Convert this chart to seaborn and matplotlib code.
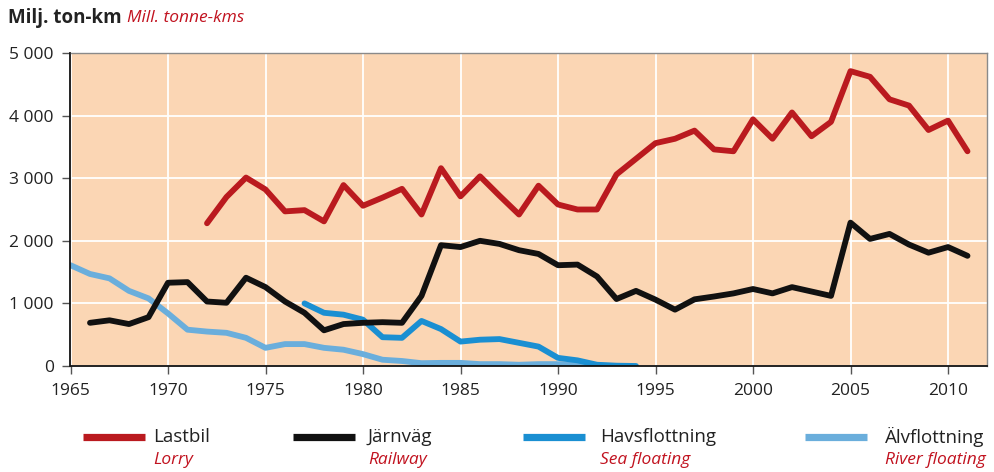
import matplotlib
matplotlib.use("Agg")
import matplotlib.pyplot as plt
from matplotlib.lines import Line2D
from matplotlib.ticker import FuncFormatter
import seaborn as sns
import pandas as pd

# ---- data ----
lastbil_years = list(range(1972, 2012))
lastbil = [2280, 2700, 3010, 2820, 2470, 2490, 2310, 2890, 2560, 2690,
           2830, 2420, 3160, 2710, 3030, 2720, 2420, 2880, 2580, 2500,
           2500, 3060, 3310, 3560, 3630, 3760, 3460, 3430, 3940, 3630,
           4050, 3670, 3900, 4710, 4620, 4260, 4160, 3770, 3920, 3430]

jarnvag_years = list(range(1966, 2012))
jarnvag = [690, 730, 670, 780, 1330, 1340, 1030, 1010, 1410, 1260,
           1030, 850, 570, 670, 690, 700, 690, 1120, 1930, 1900,
           2000, 1950, 1850, 1790, 1610, 1620, 1430, 1070, 1200, 1060,
           900, 1065, 1110, 1160, 1230, 1160, 1260, 1190, 1120, 2290,
           2030, 2110, 1940, 1810, 1900, 1760]

havs_years = list(range(1977, 1995))
havs = [1000, 850, 820, 740, 460, 450, 720, 590, 390, 420,
        430, 370, 310, 130, 90, 20, 5, 0]

alv_years = list(range(1965, 1994))
alv = [1610, 1470, 1400, 1200, 1080, 840, 580, 550, 530, 450,
       290, 350, 350, 290, 260, 190, 100, 80, 45, 50,
       50, 30, 30, 20, 30, 30, 20, 5, 0]

series_sv = ["Lastbil", "Järnväg", "Havsflottning", "Älvflottning"]
series_en = ["Lorry", "Railway", "Sea floating", "River floating"]
colors = ["#BA1A1F", "#111111", "#1A8FD2", "#6AAEDC"]

x_ticks = list(range(1965, 2015, 5))
y_ticks = [0, 1000, 2000, 3000, 4000, 5000]

frames = []
for name, yrs, vals in [("Lastbil", lastbil_years, lastbil),
                        ("Järnväg", jarnvag_years, jarnvag),
                        ("Havsflottning", havs_years, havs),
                        ("Älvflottning", alv_years, alv)]:
    frames.append(pd.DataFrame({"year": yrs, "value": vals, "series": name}))
df = pd.concat(frames, ignore_index=True)

# ---- style ----
sns.set_theme(style="white")
plt.rcParams["font.family"] = ["Open Sans", "DejaVu Sans"]

W, H = 995.0, 472.0
fig = plt.figure(figsize=(9.95, 4.72), dpi=100)
ax = fig.add_axes([70.5 / W, 1 - 366 / H, (987 - 70.5) / W, (366 - 53) / H])
ax.set_facecolor("#FBD6B4")

order = ["Älvflottning", "Havsflottning", "Järnväg", "Lastbil"]
pal = dict(zip(series_sv, colors))
for name in order:
    sub = df[df["series"] == name]
    sns.lineplot(data=sub, x="year", y="value", color=pal[name], lw=4.2,
                 ax=ax, legend=False, solid_capstyle="round", sort=True)

ax.set_xlim(1965, 2012)
ax.set_ylim(0, 5000)
ax.set_xticks(x_ticks)
ax.set_yticks(y_ticks)
ax.yaxis.set_major_formatter(FuncFormatter(lambda v, p: f"{int(v):,}".replace(",", " ")))
ax.grid(True, color="white", lw=1.3)
ax.set_axisbelow(True)
ax.set_xlabel("")
ax.set_ylabel("")

for s in ["left", "bottom"]:
    ax.spines[s].set_color("#111111")
    ax.spines[s].set_linewidth(1.3)
for s in ["top", "right"]:
    ax.spines[s].set_color("#8a8a8a")
    ax.spines[s].set_linewidth(1.0)

ax.tick_params(axis="both", which="major", direction="out", length=6, width=1,
               color="#555555", labelsize=12.5, labelcolor="#222222", pad=6,
               bottom=True, left=True)

# ---- title ----
t1 = fig.text(8 / W, 0.961, "Milj. ton-km", fontsize=13.5, fontweight="bold",
              color="#222222", va="center", ha="left")
fig.canvas.draw()
bb = t1.get_window_extent()
x_next = (bb.x1 + 5) / fig.bbox.width
fig.text(x_next, 0.961, "Mill. tonne-kms", fontsize=12.5, fontstyle="italic",
         color="#C1121F", va="center", ha="left")

# ---- legend (manual) ----
handle_x = [(83, 145), (293, 355), (523, 585), (805, 867)]
text_x = [153, 368, 600, 885]
y_sv = 1 - 437 / H
y_en = 1 - 460 / H
for i in range(4):
    a, b = handle_x[i]
    fig.add_artist(Line2D([a / W, b / W], [y_sv, y_sv],
                          transform=fig.transFigure, color=colors[i], lw=5.2,
                          solid_capstyle="butt"))
    fig.text(text_x[i] / W, y_sv, series_sv[i], fontsize=13.5, color="#222222",
             va="center", ha="left")
    fig.text(text_x[i] / W, y_en, series_en[i], fontsize=12.5, color="#C1121F",
             fontstyle="italic", va="center", ha="left")

fig.savefig("out.png", dpi=100)
